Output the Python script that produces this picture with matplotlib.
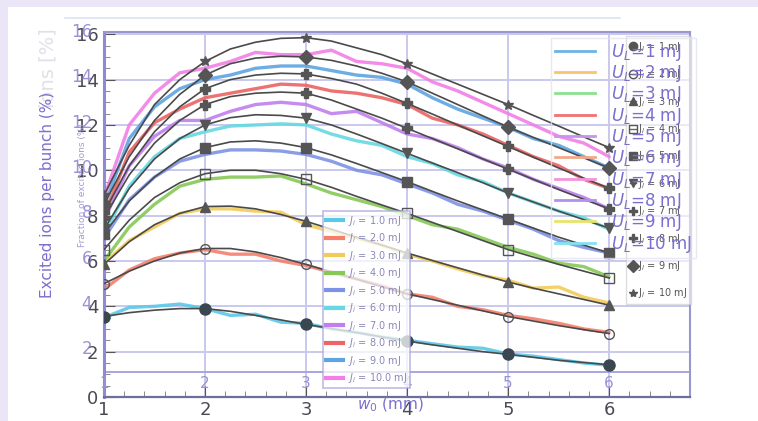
import matplotlib
matplotlib.use("Agg")
import matplotlib.pyplot as plt
from matplotlib.lines import Line2D
from matplotlib.patches import Rectangle
import matplotlib.transforms as mtransforms

# ---------------- data ----------------
x_vals = [1, 1.25, 1.5, 1.75, 2, 2.25, 2.5, 2.75, 3, 3.25, 3.5, 3.75, 4,
          4.25, 4.5, 4.75, 5, 5.25, 5.5, 5.75, 6]
x_marker = [1, 2, 3, 4, 5, 6]

fit_J1 = [3.55, 3.72, 3.83, 3.9, 3.9, 3.78, 3.6, 3.4, 3.2, 3.02, 2.84, 2.65, 2.47,
          2.3, 2.15, 2.0, 1.88, 1.75, 1.62, 1.52, 1.42]
fit_J2 = [5.0, 5.55, 6.0, 6.35, 6.55, 6.55, 6.4, 6.15, 5.85, 5.52, 5.2, 4.87, 4.55,
          4.3, 4.05, 3.8, 3.55, 3.35, 3.15, 2.97, 2.8]
fit_J3 = [5.85, 6.85, 7.6, 8.1, 8.4, 8.42, 8.3, 8.05, 7.75, 7.4, 7.05, 6.7, 6.35,
          6.02, 5.7, 5.38, 5.07, 4.8, 4.55, 4.3, 4.05]
fit_J4 = [6.5, 7.8, 8.8, 9.45, 9.85, 10.0, 10.0, 9.85, 9.6, 9.25, 8.85, 8.47, 8.1,
          7.7, 7.3, 6.9, 6.5, 6.17, 5.85, 5.55, 5.25]
fit_J5 = [7.2, 8.65, 9.7, 10.5, 11.0, 11.25, 11.3, 11.2, 11.0, 10.68, 10.3, 9.9, 9.5,
          9.07, 8.65, 8.25, 7.85, 7.45, 7.05, 6.7, 6.35]
fit_J6 = [7.4, 9.2, 10.5, 11.4, 12.0, 12.32, 12.45, 12.42, 12.3, 12.0, 11.6, 11.18, 10.75,
          10.32, 9.9, 9.45, 9.0, 8.6, 8.2, 7.82, 7.45]
fit_J7 = [7.9, 9.8, 11.2, 12.2, 12.9, 13.25, 13.4, 13.45, 13.4, 13.1, 12.7, 12.3, 11.85,
          11.4, 10.95, 10.5, 10.05, 9.6, 9.15, 8.72, 8.3]
fit_J8 = [8.15, 10.2, 11.7, 12.8, 13.6, 14.0, 14.2, 14.28, 14.25, 14.05, 13.8, 13.4, 12.95,
          12.48, 12.0, 11.52, 11.05, 10.58, 10.1, 9.65, 9.2]
fit_J9 = [8.5, 10.6, 12.2, 13.35, 14.2, 14.7, 14.95, 15.03, 15.0, 14.85, 14.6, 14.28, 13.9,
          13.4, 12.9, 12.4, 11.9, 11.45, 11.0, 10.55, 10.1]
fit_J10 = [8.9, 11.1, 12.9, 14.0, 14.8, 15.35, 15.65, 15.82, 15.85, 15.7, 15.4, 15.1, 14.7,
           14.25, 13.8, 13.35, 12.9, 12.42, 11.95, 11.47, 11.0]

meas_J1 = [3.5, 3.95, 4.0, 4.1, 3.9, 3.6, 3.65, 3.3, 3.25, 3.0, 2.85, 2.65, 2.5,
           2.35, 2.2, 2.15, 1.9, 1.8, 1.65, 1.5, 1.4]
meas_J2 = [4.75, 5.6, 6.1, 6.35, 6.5, 6.3, 6.3, 6.0, 5.8, 5.5, 5.2, 4.9, 4.55,
           4.4, 4.0, 3.85, 3.6, 3.45, 3.25, 3.0, 2.85]
meas_J3 = [5.9, 6.9, 7.5, 8.1, 8.3, 8.3, 8.2, 8.15, 7.6, 7.3, 7.0, 6.7, 6.3,
           6.0, 5.65, 5.35, 5.15, 4.8, 4.85, 4.4, 4.15]
meas_J4 = [6.0, 7.5, 8.5, 9.3, 9.6, 9.7, 9.7, 9.75, 9.4, 9.0, 8.7, 8.4, 8.0,
           7.6, 7.4, 7.0, 6.6, 6.3, 5.9, 5.75, 5.3]
meas_J5 = [7.0, 8.7, 9.7, 10.4, 10.7, 10.9, 10.9, 10.85, 10.7, 10.4, 10.0, 9.8, 9.4,
           9.0, 8.5, 8.2, 7.8, 7.4, 6.9, 6.6, 6.35]
meas_J6 = [7.2, 9.3, 10.6, 11.4, 11.7, 11.95, 12.0, 12.05, 12.0, 11.6, 11.3, 11.1, 10.6,
           10.3, 9.8, 9.5, 9.0, 8.6, 8.2, 7.9, 7.4]
meas_J7 = [7.8, 10.2, 11.5, 12.2, 12.2, 12.6, 12.9, 13.0, 12.9, 12.5, 12.6, 12.1, 11.6,
           11.4, 11.0, 10.5, 10.1, 9.6, 9.2, 8.8, 8.3]
meas_J8 = [8.0, 10.8, 12.1, 12.7, 13.2, 13.4, 13.6, 13.8, 13.75, 13.5, 13.4, 13.2, 12.9,
           12.3, 12.0, 11.6, 11.1, 10.6, 10.2, 9.6, 9.2]
meas_J9 = [8.4, 11.4, 12.8, 13.6, 14.0, 14.2, 14.5, 14.6, 14.6, 14.4, 14.2, 14.1, 13.8,
           13.2, 12.7, 12.3, 11.9, 11.4, 11.1, 10.6, 10.1]
meas_J10 = [8.8, 12.0, 13.4, 14.3, 14.5, 14.8, 15.2, 15.1, 15.1, 15.3, 14.8, 14.7, 14.5,
            13.9, 13.5, 13.0, 12.5, 12.0, 11.5, 11.2, 10.6]

fits = [fit_J1, fit_J2, fit_J3, fit_J4, fit_J5, fit_J6, fit_J7, fit_J8, fit_J9, fit_J10]
meas = [meas_J1, meas_J2, meas_J3, meas_J4, meas_J5, meas_J6, meas_J7, meas_J8, meas_J9, meas_J10]
J_labels = ["1.0", "2.0", "3.0", "4.0", "5.0", "6.0", "7.0", "8.0", "9.0", "10.0"]
J_fit_labels = ["1", "2", "3", "4", "5", "6", "7", "8", "9", "10"]
UL_labels = ["1", "2", "3", "4", "5", "6", "7", "8", "9", "10"]
y_ticks = [0, 2, 4, 6, 8, 10, 12, 14, 16]
x_ticks = [1, 2, 3, 4, 5, 6]

# ---------------- styles ----------------
meas_colors = ["#5cc8e8", "#f4806c", "#f2cc5a", "#86c956", "#7d92e4",
               "#66d8e2", "#c07ef0", "#ec6464", "#5ea4e0", "#f27ee6"]
UL_colors = ["#6cb4e4", "#f8c472", "#8ee08e", "#f07272", "#c594ee",
             "#f2a88a", "#f394dc", "#b491ee", "#e8e46a", "#82e2ee"]
markers = ["o", "o", "^", "s", "s", "v", "P", "P", "D", "*"]
mfill = [True, False, True, False, True, True, True, True, True, True]
purple = "#7b6fcf"
grid_c = "#c9c8ee"

fig = plt.figure(figsize=(7.58, 4.21), dpi=100)
fig.patch.set_facecolor("#ebe6f7")
fig.patches.append(Rectangle((8 / 758, 0), 1, 1 - 7 / 421, transform=fig.transFigure,
                             facecolor="white", edgecolor="none", zorder=-10))
fig.lines.append(Line2D([65 / 758, 620 / 758], [1 - 18 / 421] * 2, transform=fig.transFigure,
                        color="#dde3f2", lw=1.2, zorder=-5))

ax = fig.add_axes([104 / 758, 24 / 421, (690 - 104) / 758, (397 - 32) / 421])
ax.set_xlim(1, 6.8)
ax.set_ylim(0, 16.1)
ax.set_facecolor("white")

# grid (overlay chart)
for yv in y_ticks[1:]:
    ax.axhline(yv, color=grid_c, lw=1.4, zorder=1)
for xv in x_ticks[1:]:
    ax.axvline(xv, color=grid_c, lw=1.4, zorder=1)
ax.axhline(1.1, color="#a9a4dc", lw=1.4, zorder=1)

# measured (noisy) lines
for k in range(10):
    ax.plot(x_vals, meas[k], color=meas_colors[k], lw=2.4, alpha=0.9, zorder=2,
            solid_capstyle="round")

# fit curves with markers
for k in range(10):
    ax.plot(x_vals, fits[k], color="#4a4a4a", lw=1.2, zorder=3)
    ym = [fits[k][x_vals.index(xv)] for xv in x_marker]
    ax.plot(x_marker, ym, ls="none", marker=markers[k], ms=7 if k != 0 else 8,
            mfc=("#3a4650" if k == 0 else "#555555") if mfill[k] else "none",
            mec="#555555" if k else "#3a4650", mew=1.0, zorder=4)

# spines & ticks
for s in ["top", "right"]:
    ax.spines[s].set_color("#9a97cf")
    ax.spines[s].set_linewidth(1.5)
ax.spines["left"].set_color("#8f8ad8")
ax.spines["left"].set_linewidth(2.2)
ax.spines["bottom"].set_color("#6d6f9a")
ax.spines["bottom"].set_linewidth(1.6)
ax.set_xticks(x_ticks)
ax.set_yticks(y_ticks)
ax.set_xticks([1 + 0.2 * i for i in range(30)], minor=True)
ax.set_yticks([0.5 * i for i in range(33)], minor=True)
ax.tick_params(axis="both", which="major", labelsize=13, labelcolor="#4a4a55",
               color="#555", direction="in", length=8)
ax.tick_params(axis="both", which="minor", color="#777", direction="in", length=4)
ax.tick_params(axis="x", pad=3)
ax.tick_params(axis="y", pad=4)

# overlay purple tick labels
tr_y = mtransforms.blended_transform_factory(fig.transFigure, ax.transData)
for yv in y_ticks[1:]:
    ax.text(92 / 758, yv + 0.1, str(yv), transform=tr_y, ha="right", va="center",
            color="#8a80cf", fontsize=12, alpha=0.85)
tr_x = mtransforms.blended_transform_factory(ax.transData, fig.transFigure)
for xv in x_ticks:
    ax.text(xv, 1 - 384 / 421, str(xv), transform=tr_x, ha="center", va="center",
            color="#9a92d6", fontsize=11)

# axis titles
fig.text(48 / 758, 1 - 195 / 421, "Excited ions per bunch (%)", rotation=90,
         ha="center", va="center", color=purple, fontsize=11)
fig.text(82 / 758, 1 - 185 / 421, "Fraction of excited ions (%)", rotation=90,
         ha="center", va="center", color="#a49ad8", fontsize=6.5)
fig.text(48 / 758, 1 - 68 / 421, "ions [%]", rotation=90,
         ha="center", va="center", color="#e0e0e8", fontsize=14, zorder=-1)

# legend of thin-line series (J_i)
h_meas = [Line2D([], [], color=meas_colors[k], lw=3) for k in range(10)]
leg1 = ax.legend(h_meas, [rf"$J_i$ = {v} mJ" for v in J_labels],
                 loc="upper left", bbox_to_anchor=(318 / 758, 1 - 206 / 421),
                 bbox_transform=fig.transFigure, fontsize=7, labelcolor="#8a86b8",
                 frameon=True, edgecolor="#a9a4dc", facecolor="white", framealpha=0.75,
                 handlelength=1.8, handletextpad=0.5, borderpad=0.3, labelspacing=0.36,
                 fancybox=False)
leg1.get_frame().set_linewidth(1.2)
ax.add_artist(leg1)

# legend of fit markers
h_fit = [Line2D([], [], color="#666", lw=1.0, marker=markers[k], ms=6,
                mfc="#555" if mfill[k] else "none", mec="#555") for k in range(10)]
leg2 = ax.legend(h_fit, [rf"J$_l$ = {v} mJ" for v in J_fit_labels],
                 loc="upper left", bbox_to_anchor=(621 / 758, 1 - 31 / 421),
                 bbox_transform=fig.transFigure, fontsize=7, labelcolor="#555",
                 frameon=True, edgecolor="#c8c8c8", facecolor="white", framealpha=0.6,
                 handlelength=0.6, handletextpad=0.3, borderpad=0.4, labelspacing=1.38,
                 fancybox=False)
ax.add_artist(leg2)

# U_L legend
h_ul = [Line2D([], [], color=UL_colors[k], lw=2) for k in range(10)]
leg3 = ax.legend(h_ul, [rf"$U_L$={v} mJ" for v in UL_labels],
                 loc="upper left", bbox_to_anchor=(543 / 758, 1 - 30 / 421),
                 bbox_transform=fig.transFigure, fontsize=12, labelcolor=purple,
                 frameon=True, edgecolor="#e4e4f0", facecolor="none",
                 handlelength=2.4, handletextpad=1.0, borderpad=0.2, labelspacing=0.02,
                 fancybox=False)

ax.text(3.83, 1 - 405 / 421, r"$w_0$ (mm)", transform=tr_x, ha="center", va="center",
        color=purple, fontsize=11, zorder=10)

fig.savefig("out.png", dpi=100, facecolor=fig.get_facecolor())
